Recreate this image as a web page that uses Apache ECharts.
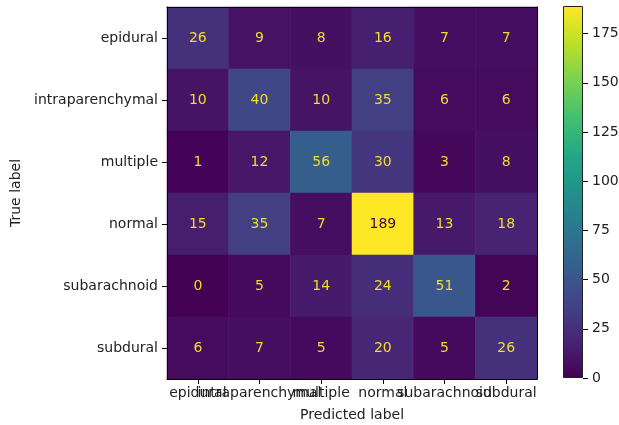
<!DOCTYPE html>
<html>
<head>
<meta charset="utf-8">
<script src="https://cdn.jsdelivr.net/npm/echarts@6/dist/echarts.min.js"></script>
<style>
  html, body { margin: 0; padding: 0; background: #fff; }
  #chart { width: 619px; height: 425px; }
</style>
</head>
<body>
<div id="chart"></div>
<script>
// confusion matrix, rows = true label, cols = predicted label
var labels = ['epidural', 'intraparenchymal', 'multiple', 'normal', 'subarachnoid', 'subdural'];
var rowEpidural = [26, 9, 8, 16, 7, 7];
var rowIntra = [10, 40, 10, 35, 6, 6];
var rowMultiple = [1, 12, 56, 30, 3, 8];
var rowNormal = [15, 35, 7, 189, 13, 18];
var rowSubarach = [0, 5, 14, 24, 51, 2];
var rowSubdural = [6, 7, 5, 20, 5, 26];
var matrix = [rowEpidural, rowIntra, rowMultiple, rowNormal, rowSubarach, rowSubdural];
var colorMin = 0;
var colorMax = 189;
var colorTicks = 25;

var viridis = ['#440154', '#482475', '#414487', '#355f8d', '#2a788e', '#21918c',
               '#22a884', '#44bf70', '#7ad151', '#bddf26', '#fde725'];

var font = 'DejaVu Sans';
var fs = 14;

var cells = [];
var thresh = (colorMin + colorMax) / 2;
matrix.forEach(function (row, r) {
  row.forEach(function (v, c) {
    cells.push({
      value: [c, r, v],
      label: { color: v < thresh ? '#f0dc2c' : viridis[0] }
    });
  });
});

var stops = viridis.map(function (col, i) {
  return { offset: i / (viridis.length - 1), color: col };
});

var axisCommon = {
  z: 10,
  axisLine: { show: true, lineStyle: { color: '#000', width: 1 } },
  axisTick: { show: true, alignWithLabel: true, length: 5, lineStyle: { color: '#000' } },
  splitLine: { show: false }
};

var chart = echarts.init(document.getElementById('chart'));
chart.setOption({
  animation: false,
  textStyle: { fontFamily: font },
  grid: [
    { left: 167, top: 7, width: 370, height: 372, outerBoundsMode: 'none' },
    { left: 563, top: 6, width: 20, height: 372, outerBoundsMode: 'none' }
  ],
  visualMap: {
    show: false,
    type: 'continuous',
    seriesIndex: 0,
    min: colorMin,
    max: colorMax,
    inRange: { color: viridis }
  },
  xAxis: [
    Object.assign({}, axisCommon, {
      type: 'category', gridIndex: 0, data: labels, position: 'bottom',
      name: 'Predicted label', nameLocation: 'middle', nameGap: 29,
      nameTextStyle: { fontFamily: font, fontSize: fs, color: '#222' },
      axisLabel: { interval: 0, hideOverlap: false, fontFamily: font, fontSize: fs, color: '#222', margin: 7 }
    }),
    Object.assign({}, axisCommon, {
      type: 'category', gridIndex: 0, data: labels, position: 'top',
      axisTick: { show: false }, axisLabel: { show: false }
    }),
    { type: 'category', gridIndex: 1, data: [''], show: false }
  ],
  yAxis: [
    Object.assign({}, axisCommon, {
      type: 'category', gridIndex: 0, data: labels, inverse: true, position: 'left',
      name: 'True label', nameLocation: 'middle', nameGap: 141, nameRotate: 90,
      nameTextStyle: { fontFamily: font, fontSize: fs, color: '#222' },
      axisLabel: { fontFamily: font, fontSize: fs, color: '#222', margin: 9 }
    }),
    Object.assign({}, axisCommon, {
      type: 'category', gridIndex: 0, data: labels, inverse: true, position: 'right',
      axisTick: { show: false }, axisLabel: { show: false }
    }),
    {
      type: 'value', gridIndex: 1, position: 'right', z: 10,
      min: colorMin, max: colorMax, interval: colorTicks,
      axisLine: { show: false },
      axisTick: { show: true, length: 5, lineStyle: { color: '#000' } },
      splitLine: { show: false },
      axisLabel: { fontFamily: font, fontSize: fs, color: '#222', margin: 9,
        showMaxLabel: false }
    }
  ],
  series: [
    {
      type: 'heatmap',
      xAxisIndex: 0,
      yAxisIndex: 0,
      data: cells,
      label: { show: true, fontFamily: font, fontSize: fs },
      itemStyle: { borderWidth: 0 },
      emphasis: { disabled: true }
    },
    {
      type: 'bar',
      xAxisIndex: 2,
      yAxisIndex: 2,
      barWidth: '100%',
      data: [colorMax],
      itemStyle: {
        color: new echarts.graphic.LinearGradient(0, 1, 0, 0, stops),
        borderColor: '#222',
        borderWidth: 1
      },
      silent: true
    }
  ]
});
</script>
</body>
</html>
